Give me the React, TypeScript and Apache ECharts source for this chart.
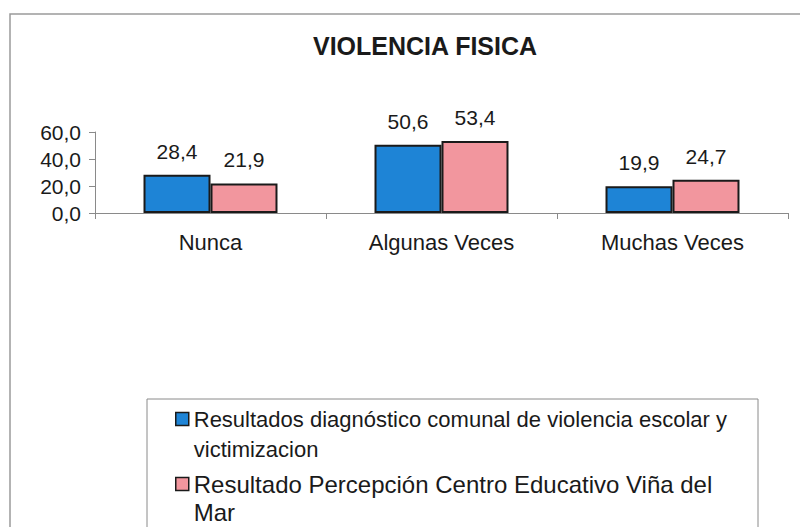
import React, { useEffect, useRef } from "react";
import * as echarts from "echarts";

const categories = ["Nunca", "Algunas Veces", "Muchas Veces"];
const seriesNames = [
  "Resultados diagnóstico comunal de violencia escolar y victimizacion",
  "Resultado Percepción Centro Educativo Viña del Mar",
];
const legendLines = [
  ["Resultados diagnóstico comunal de violencia escolar y", "victimizacion"],
  ["Resultado Percepción Centro Educativo Viña del", "Mar"],
];
const comunalValues = [28.4, 50.6, 19.9];
const centroValues = [21.9, 53.4, 24.7];
const yTicks = { min: 0, max: 60, interval: 20 };
const title = "VIOLENCIA FISICA";

const FONT = "Arial, 'Liberation Sans', sans-serif";
const BLUE = "#1e84d6";
const PINK = "#f2969e";
const fmt = (v: number) => v.toFixed(1).replace(".", ",");

export default function App() {
  const ref = useRef<HTMLDivElement>(null);
  useEffect(() => {
    if (!ref.current) return;
    const chart = echarts.init(ref.current, undefined, { renderer: "svg" });
    const labelStyle = {
      show: true,
      position: "top" as const,
      distance: 13,
      fontSize: 21,
      fontFamily: FONT,
      color: "#1a1a1a",
      formatter: (p: any) => fmt(p.value),
    };
    // icon centre c; text has a leading empty line so the first real line sits level with the icon
    const mkLegend = (i: number, c: number, fontSize: number, lh: number, color: string) => ({
      orient: "vertical",
      left: 175,
      top: c - 1.5 * lh,
      padding: 0,
      selectedMode: false,
      icon: "rect",
      itemWidth: 13,
      itemHeight: 13,
      data: [
        {
          name: seriesNames[i],
          itemStyle: { color, borderColor: "#1a1a1a", borderWidth: 1.5 },
        },
      ],
      formatter: () => "\n" + legendLines[i].join("\n"),
      textStyle: {
        fontFamily: FONT,
        fontSize,
        lineHeight: lh,
        color: "#1a1a1a",
      },
    });
    chart.setOption({
      animation: false,
      backgroundColor: "#ffffff",
      title: {
        text: title,
        left: 313,
        top: 33,
        padding: 0,
        textStyle: { fontFamily: FONT, fontSize: 25, fontWeight: "bold", color: "#1a1a1a" },
      },
      grid: { left: 95, right: 12, top: 132, bottom: 314, containLabel: false },
      xAxis: {
        type: "category",
        data: categories,
        axisLine: { lineStyle: { color: "#8a8a8a", width: 1 } },
        axisTick: { show: true, length: 6, lineStyle: { color: "#8a8a8a" } },
        axisLabel: { fontFamily: FONT, fontSize: 22, color: "#1a1a1a", margin: 18 },
      },
      yAxis: {
        type: "value",
        min: yTicks.min,
        max: yTicks.max,
        interval: yTicks.interval,
        splitLine: { show: false },
        axisLine: { show: true, lineStyle: { color: "#8a8a8a", width: 1 } },
        axisTick: { show: true, length: 6, lineStyle: { color: "#8a8a8a" } },
        axisLabel: {
          fontFamily: FONT,
          fontSize: 21,
          color: "#1a1a1a",
          margin: 14,
          formatter: (v: number) => fmt(v),
        },
      },
      legend: [
        mkLegend(0, 419, 22, 30, BLUE),
        mkLegend(1, 484, 24, 28, PINK),
      ],
      series: [
        {
          name: seriesNames[0],
          type: "bar",
          data: comunalValues,
          barGap: "0%",
          barCategoryGap: "42%",
          itemStyle: { color: BLUE, borderColor: "#1a1a1a", borderWidth: 2 },
          label: labelStyle,
        },
        {
          name: seriesNames[1],
          type: "bar",
          data: centroValues,
          barGap: "0%",
          barCategoryGap: "42%",
          itemStyle: { color: PINK, borderColor: "#1a1a1a", borderWidth: 2 },
          label: labelStyle,
        },
      ],
      graphic: [
        {
          type: "rect",
          silent: true,
          z: -1,
          shape: { x: 10, y: 14, width: 820, height: 600 },
          style: { fill: "none", stroke: "#9a9a9a", lineWidth: 1.5 },
        },
        {
          type: "rect",
          silent: true,
          z: -1,
          shape: { x: 147, y: 399, width: 611, height: 200 },
          style: { fill: "none", stroke: "#8a8a8a", lineWidth: 1 },
        },
      ],
    });
    return () => chart.dispose();
  }, []);
  return (
    <div
      ref={ref}
      style={{ position: "fixed", left: 0, top: 0, width: 800, height: 527 }}
    />
  );
}
